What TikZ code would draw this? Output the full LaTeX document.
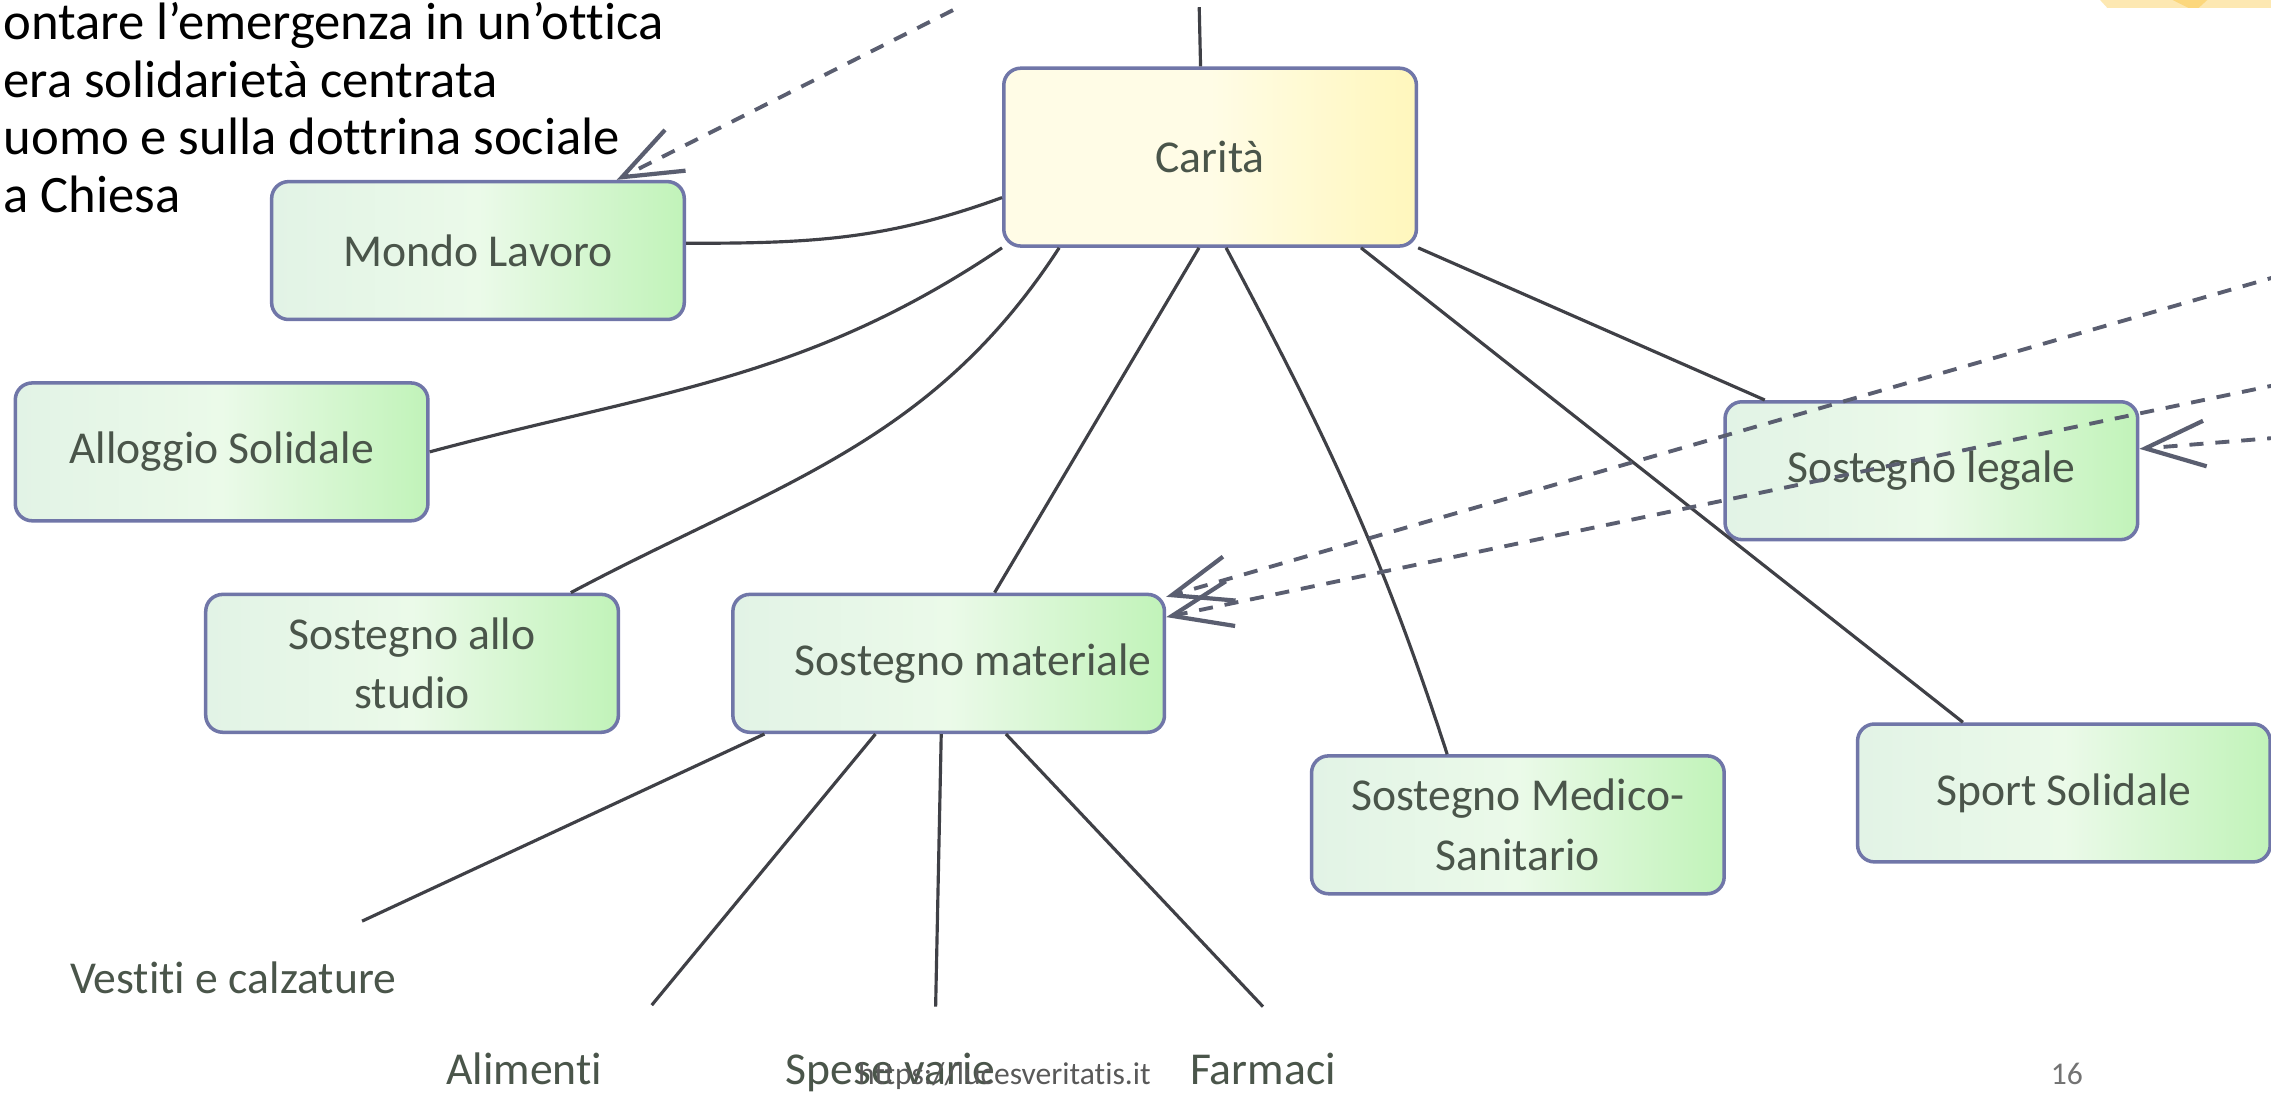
\documentclass[tikz,border=0pt]{standalone}
\usepackage{fontspec}
\setmainfont{Carlito}[Ligatures=NoCommon]
\usetikzlibrary{arrows.meta}
\definecolor{bordo}{HTML}{7076A8}
\definecolor{verdeA}{HTML}{E2F3E6}
\definecolor{verdeB}{HTML}{EBFAE9}
\definecolor{verdeC}{HTML}{C1F3B9}
\definecolor{gialloA}{HTML}{FFFCE6}
\definecolor{gialloB}{HTML}{FFF7BC}
\definecolor{testo}{HTML}{4A554A}
\definecolor{linea}{HTML}{3F4046}
\definecolor{tratt}{HTML}{5A5E70}
\definecolor{nastro}{HTML}{FDE8B2}
\definecolor{nastroB}{HTML}{FCD77C}

\begin{document}
\begin{tikzpicture}[x=0.0145cm, y=0.0145cm,
    ramo/.style={draw=bordo, line width=1pt, rounded corners=0.17cm,
        left color=verdeA, right color=verdeC, middle color=verdeB,
        text=testo, font=\fontsize{13}{17}\selectfont, align=center,
        minimum width=4.13cm, minimum height=1.38cm, inner sep=0pt},
    centro/.style={ramo, left color=gialloA, right color=gialloB,
        middle color=gialloA, minimum height=1.78cm},
    link/.style={draw=linea, line width=0.9pt},
    rimando/.style={draw=tratt, line width=1.1pt, dash pattern=on 4pt off 3.4pt,
        -{Straight Barb[length=17pt, width=13pt, line width=1.2pt]}},
    voce/.style={text=testo, font=\fontsize{13}{15}\selectfont, inner sep=0pt}]
    \useasboundingbox (0,0) rectangle (1568,-756);
    \fill[white] (0,0) rectangle (1568,-756);

    \fill[nastro] (1450,0) -- (1568,0) -- (1568,-5.5) -- (1455,-5.5) -- cycle;
    \fill[nastroB] (1500,0) -- (1524,0) -- (1518,-5.5) -- (1511,-5.5) -- cycle;

    \foreach \riga [count=\i] in {ontare l’emergenza in un’ottica, era solidarietà centrata,
        uomo e sulla dottrina sociale, a Chiesa}
        \node[anchor=base west, inner sep=0pt, font=\fontsize{15}{17}\selectfont]
            (intro\i) at (2,{-27.5-39.7*(\i-1)}) {\riga};

    \node[centro] (carita) at (835.5,-108.5) {Carità};
    \node[ramo] (lavoro) at (330,-173) {Mondo Lavoro};
    \node[ramo] (alloggio) at (153,-312) {Alloggio Solidale};
    \node[ramo] (studio) at (284.5,-458) {Sostegno allo\\studio};
    \node[ramo, minimum width=4.32cm] (materiale) at (655,-458) {\hspace{14pt}Sostegno materiale};
    \node[ramo] (medico) at (1048,-569.5) {Sostegno Medico-\\Sanitario};
    \node[ramo] (legale) at (1333.5,-325) {Sostegno legale};
    \node[ramo] (sport) at (1425,-547.5) {Sport Solidale};

    \coordinate (ctop) at (828,-5);
    \coordinate (v-end) at (250,-636);
    \coordinate (a-end) at (450,-694);
    \coordinate (s-end) at (646,-695);
    \coordinate (f-end) at (872,-695);
    \coordinate (da-lavoro) at (658,-7);
    \coordinate (da-mat1) at (1575,-190);
    \coordinate (da-mat2) at (1575,-265);
    \coordinate (da-legale) at (1575,-302);

    \draw[link] (carita.96) -- (ctop);
    \draw[link] (carita.191) to[out=200, in=0] (lavoro.2);
    \draw[link] (carita.south west) to[out=214, in=15] (alloggio.east);
    \draw[link] (carita.211) to[out=237, in=28] (studio.24);
    \draw[link] (carita.263) -- (materiale.57);
    \draw[link] (carita.280) to[out=-62, in=108] (medico.135);
    \draw[link] (carita.329) -- (sport.145);
    \draw[link] (carita.south east) -- (legale.157);

    \draw[link] (materiale.201.6) -- (v-end);
    \draw[link] (materiale.224) -- (a-end);
    \draw[link] (materiale.264) -- (s-end);
    \draw[link] (materiale.309) -- (f-end);

    \draw[rimando] (da-lavoro) -- (lavoro.27);
    \draw[rimando] (da-mat1) -- (materiale.17);
    \draw[rimando] (da-mat2) -- (materiale.12.5);
    \draw[rimando] (da-legale) -- (legale.6);

    \node[voce, anchor=base west] (vestiti) at (48,-686) {Vestiti e calzature};
    \node[voce, anchor=base] (alimenti) at (362,-749) {Alimenti};
    \node[voce, anchor=base] (spese) at (615,-749) {Spese varie};
    \node[voce, anchor=base] (farmaci) at (872,-749) {Farmaci};
    \node[anchor=base east, inner sep=0pt, text=black!65, font=\fontsize{9}{10}\selectfont]
        (sito) at (795,-749) {https://lucesveritatis.it};
    \node[anchor=base, inner sep=0pt, text=black!55, font=\fontsize{9}{10}\selectfont]
        (pagina) at (1427,-749) {16};
\end{tikzpicture}
\end{document}
